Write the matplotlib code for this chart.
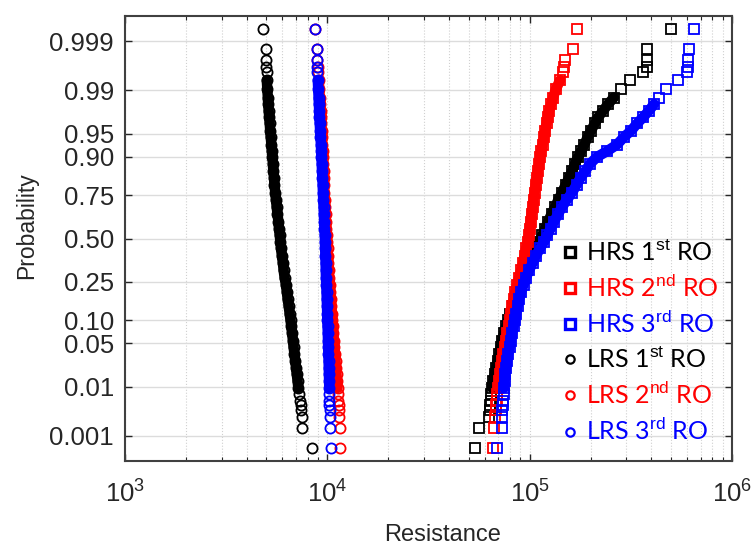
import numpy as np
import matplotlib
matplotlib.use("Agg")
import matplotlib.pyplot as plt
from matplotlib.lines import Line2D
from matplotlib.ticker import LogLocator, NullLocator, FixedLocator, NullFormatter
from statistics import NormalDist

# ---------------- data ----------------
PROB = [0.0005, 0.0015, 0.0025, 0.0035, 0.0045, 0.0055, 0.0075, 0.0095, 0.0125,
        0.0165, 0.0215, 0.0275, 0.0345, 0.0445, 0.0545, 0.0695, 0.0845, 0.0995,
        0.1195, 0.1445, 0.1695, 0.1995, 0.2345, 0.2695, 0.3095, 0.3495, 0.3945,
        0.4395, 0.4795, 0.5195, 0.5595, 0.6045, 0.6495, 0.6895, 0.7295, 0.7645,
        0.7995, 0.8295, 0.8545, 0.8795, 0.8995, 0.9145, 0.9295, 0.9445, 0.9545,
        0.9645, 0.9715, 0.9775, 0.9825, 0.9865, 0.9905, 0.9935, 0.9955, 0.9965,
        0.9975, 0.9985, 0.9995]

HRS_1 = [53900, 55900, 63000, 63400, 63700, 64100, 64400, 65200, 65900, 67100,
         68200, 69400, 70600, 71800, 73000, 74700, 76400, 78200, 80000, 82300,
         84700, 87600, 90700, 93800, 97100, 100500, 103900, 107600, 111300, 115200,
         119100, 123300, 128300, 133500, 138900, 144600, 150500, 156600, 162000,
         167700, 173500, 179500, 186000, 194000, 201000, 210000, 218000, 231000,
         244000, 261000, 283000, 313000, 364000, 380000, 380000, 382000, 498000]
HRS_2 = [66200, 66700, 67400, 67800, 68200, 68600, 69000, 69800, 70600, 71400,
         72200, 73000, 73900, 75200, 76000, 77300, 78700, 79600, 80500, 81900,
         83300, 84700, 86600, 88600, 90700, 92800, 94400, 96000, 97600, 98800,
         99900, 101000, 102200, 103400, 104500, 105700, 106900, 108200, 109400,
         111300, 112600, 113900, 115800, 117800, 119100, 121200, 122600, 124700,
         127600, 130500, 135000, 141300, 146300, 147900, 149600, 163300, 172100]
HRS_3 = [68800, 72800, 73000, 73000, 73500, 73900, 74300, 74700, 75200, 75600,
         76400, 77300, 78200, 79600, 80500, 81900, 83300, 84700, 85700, 87100,
         88600, 90700, 93300, 96000, 99300, 103400, 107600, 112600, 117800, 121900,
         126800, 132000, 138200, 144600, 153100, 162000, 170500, 178500, 188000,
         199000, 215000, 241000, 270000, 293000, 317000, 340000, 364000, 389000,
         412000, 436000, 472000, 541000, 600000, 603000, 607000, 614000, 652000]
LRS_1 = [8370, 7500, 7460, 7410, 7370, 7330, 7260, 7190, 7130, 7065, 7000, 6940,
         6880, 6810, 6760, 6690, 6630, 6580, 6510, 6440, 6370, 6310, 6240, 6150,
         6080, 6030, 5960, 5900, 5860, 5820, 5770, 5730, 5670, 5620, 5570, 5530,
         5480, 5450, 5410, 5380, 5350, 5320, 5290, 5250, 5220, 5190, 5160, 5130,
         5100, 5080, 5050, 5020, 5010, 5000, 4990, 4980, 4800]
LRS_2 = [11560, 11490, 11450, 11410, 11370, 11330, 11280, 11230, 11170, 11100,
         11040, 10980, 10920, 10840, 10780, 10710, 10650, 10590, 10530, 10470,
         10410, 10350, 10290, 10230, 10170, 10120, 10070, 10020, 9980, 9940, 9900,
         9850, 9810, 9760, 9720, 9680, 9630, 9610, 9580, 9540, 9520, 9490, 9460,
         9410, 9380, 9340, 9310, 9270, 9220, 9180, 9120, 9070, 9020, 8990, 8940,
         8890, 8740]
LRS_3 = [10370, 10250, 10250, 10250, 10240, 10240, 10230, 10220, 10200, 10180,
         10160, 10140, 10120, 10090, 10070, 10050, 10020, 10000, 9980, 9960, 9930,
         9910, 9880, 9840, 9820, 9800, 9780, 9750, 9730, 9710, 9680, 9640, 9610,
         9580, 9540, 9510, 9480, 9450, 9410, 9380, 9350, 9320, 9290, 9250, 9210,
         9170, 9140, 9110, 9080, 9050, 9010, 8970, 8940, 8920, 8890, 8850, 8720]

SERIES_LABELS = [r"HRS 1$^{\mathrm{st}}$ RO", r"HRS 2$^{\mathrm{nd}}$ RO", r"HRS 3$^{\mathrm{rd}}$ RO",
                 r"LRS 1$^{\mathrm{st}}$ RO", r"LRS 2$^{\mathrm{nd}}$ RO", r"LRS 3$^{\mathrm{rd}}$ RO"]
SERIES_COLORS = ["black", "#ff0000", "#0000ff", "black", "#ff0000", "#0000ff"]
SERIES_MARKERS = ["s", "s", "s", "o", "o", "o"]
SERIES_DATA = [HRS_1, HRS_2, HRS_3, LRS_1, LRS_2, LRS_3]
# index range (into PROB) where the 1000 measured points pile up into a solid band
DENSE_RANGE = [(7, 49), (7, 51), (7, 48), (7, 51), (7, 51), (7, 51)]

YTICKS = [0.001, 0.01, 0.05, 0.10, 0.25, 0.50, 0.75, 0.90, 0.95, 0.99, 0.999]
YTICKLABELS = ["0.001", "0.01", "0.05", "0.10", "0.25", "0.50", "0.75", "0.90", "0.95", "0.99", "0.999"]

# ---------------- probit scale ----------------
_nd = NormalDist()
_ppf = np.vectorize(_nd.inv_cdf, otypes=[float])
_cdf = np.vectorize(_nd.cdf, otypes=[float])


def fwd(p):
    p = np.clip(np.asarray(p, dtype=float), 1e-9, 1 - 1e-9)
    return _ppf(p)


def inv(z):
    z = np.clip(np.asarray(z, dtype=float), -8, 8)
    return _cdf(z)


plt.rcParams['font.family'] = ['Liberation Sans', 'DejaVu Sans']
plt.rcParams['mathtext.fontset'] = 'custom'
plt.rcParams['mathtext.rm'] = 'Liberation Sans'

fig = plt.figure(figsize=(7.52, 5.47), dpi=100)
ax = fig.add_axes([125 / 752, 1 - 461 / 547, (732 - 125) / 752, (461 - 16) / 547])

for data, col, mk, (i0, i1) in zip(SERIES_DATA, SERIES_COLORS, SERIES_MARKERS, DENSE_RANGE):
    ax.plot(data[i0:i1 + 1], PROB[i0:i1 + 1], linestyle='-', color=col, linewidth=7.5,
            solid_capstyle='round', solid_joinstyle='round', marker=None)
    ax.plot(data, PROB, linestyle='none', marker=mk, markersize=7.3,
            markerfacecolor='none', markeredgecolor=col, markeredgewidth=1.3)

ax.set_xscale('log')
ax.set_yscale('function', functions=(fwd, inv))
ax.set_xlim(1e3, 1e6)
ax.set_ylim(inv(-3.49), inv(3.49))

ax.yaxis.set_major_locator(FixedLocator(YTICKS))
ax.set_yticklabels(YTICKLABELS)
ax.yaxis.set_minor_locator(NullLocator())
ax.xaxis.set_major_locator(LogLocator(base=10, numticks=10))
ax.xaxis.set_minor_locator(LogLocator(base=10, subs=np.arange(2, 10), numticks=50))
ax.xaxis.set_minor_formatter(NullFormatter())

ax.tick_params(which='both', direction='in', top=True, right=True,
               colors='#262626', labelcolor='#262626')
ax.tick_params(which='major', length=5, width=1.0, labelsize=18.5, pad=8)
ax.tick_params(axis='x', which='major', pad=14)
ax.tick_params(which='minor', length=3, width=0.8)

ax.grid(True, axis='y', which='major', color='#dcdcdc', linewidth=1.0, linestyle='-')
ax.grid(True, axis='x', which='both', color='#d0d0d0', linewidth=0.8, linestyle=':')
ax.set_axisbelow(True)

for s in ax.spines.values():
    s.set_color('#404040')
    s.set_linewidth(1.5)

ax.set_xlabel('Resistance', fontsize=17, color='#262626', labelpad=12)
ax.xaxis.label.set_x((443 - 125) / 607)
ax.set_ylabel('Probability', fontsize=16.5, color='#262626', labelpad=8)
ax.yaxis.label.set_y((461 - 226) / 445)

# legend
handles = []
for col, mk in zip(SERIES_COLORS, SERIES_MARKERS):
    if mk == 's':
        handles.append(Line2D([], [], linestyle='none', marker='s', markersize=7,
                              markerfacecolor='none', markeredgecolor=col, markeredgewidth=2.4))
    else:
        handles.append(Line2D([], [], linestyle='none', marker='o', markersize=6,
                              markerfacecolor='none', markeredgecolor=col, markeredgewidth=1.6))

leg = ax.legend(handles, SERIES_LABELS, loc='upper left',
                bbox_to_anchor=(560 / 752, 1 - 239 / 547), bbox_transform=fig.transFigure,
                frameon=False, borderpad=0, borderaxespad=0, handlelength=0.8,
                handletextpad=0.25, labelspacing=0.365,
                prop={'family': ['Lato', 'DejaVu Sans'], 'size': 18})
for txt, col in zip(leg.get_texts(), SERIES_COLORS):
    txt.set_color(col)

fig.savefig('out.png', dpi=100)
